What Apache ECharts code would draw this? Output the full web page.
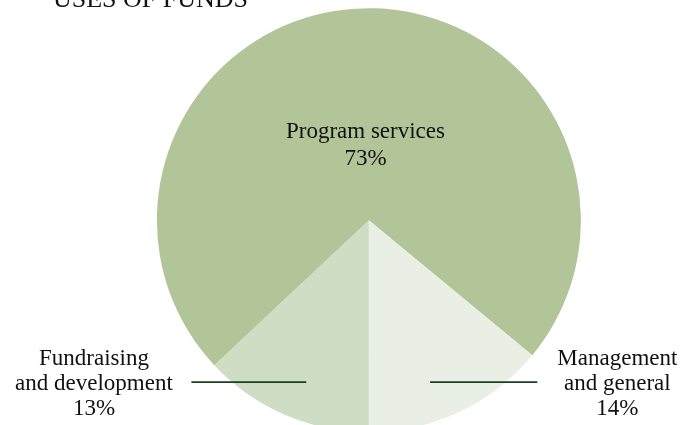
<!DOCTYPE html>
<html>
<head>
<meta charset="utf-8">
<script src="https://cdn.jsdelivr.net/npm/echarts@6/dist/echarts.min.js"></script>
<style>
html,body{margin:0;padding:0;background:#fff;}
#c{width:696px;height:425px;}
</style>
</head>
<body>
<div id="c"></div>
<script>
var categories = ['Fundraising\nand development', 'Program services', 'Management\nand general'];
var values = [13, 73, 14];
var colors = ['#d0ddc5', '#b2c599', '#e9efe4'];
var titleText = 'USES OF FUNDS';

var chart = echarts.init(document.getElementById('c'));
var W = 696, H = 425;
var font = 'Liberation Serif';

var pieData = categories.map(function (n, i) {
  return { name: n, value: values[i], itemStyle: { color: colors[i] } };
});
var labelData = categories.map(function (n, i) {
  var item = { name: n, value: values[i], itemStyle: { color: 'rgba(0,0,0,0)' } };
  if (i === 1) {
    item.label = { position: 'inside', lineHeight: 27 };
    item.labelLine = { show: false };
  }
  return item;
});

var common = {
  type: 'pie',
  center: ['53%', '51.8%'],
  radius: [0, 212],
  startAngle: -90,
  clockwise: true,
  silent: true
};

chart.setOption({
  animation: false,
  title: {
    text: titleText,
    left: 48,
    top: -18,
    textStyle: { fontFamily: font, fontSize: 26, fontWeight: 'normal', color: '#111' }
  },
  series: [
    Object.assign({}, common, {
      z: 2,
      data: pieData,
      label: { show: false },
      labelLine: { show: false }
    }),
    Object.assign({}, common, {
      z: 5,
      data: labelData,
      label: {
        show: true,
        position: 'outside',
        formatter: '{b}\n{c}%',
        fontFamily: font,
        fontSize: 23,
        lineHeight: 25,
        color: '#111',
        align: 'center'
      },
      labelLine: {
        show: true,
        lineStyle: { color: '#17421f', width: 1.6 }
      },
      labelLayout: function (p) {
        if (p.dataIndex === 1) {
          return { dy: 34 };
        }
        if (p.dataIndex === 0) {
          return {
            x: W * 0.135, y: H * 0.904, align: 'center', verticalAlign: 'middle',
            labelLinePoints: [[W * 0.44, H * 0.899], [W * 0.36, H * 0.899], [W * 0.275, H * 0.899]]
          };
        }
        return {
          x: W * 0.887, y: H * 0.904, align: 'center', verticalAlign: 'middle',
          labelLinePoints: [[W * 0.618, H * 0.899], [W * 0.70, H * 0.899], [W * 0.772, H * 0.899]]
        };
      }
    })
  ]
});
</script>
</body>
</html>
